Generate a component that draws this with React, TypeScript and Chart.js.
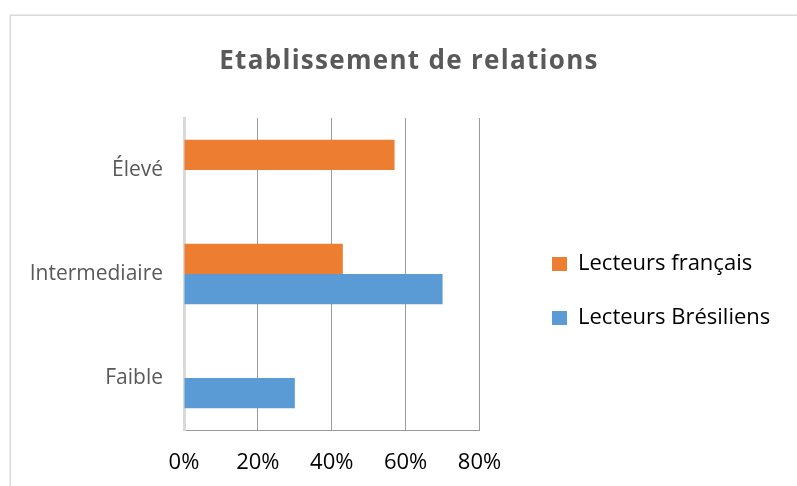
import React, { useEffect, useRef } from 'react';
import { Chart, registerables } from 'chart.js';

Chart.register(...registerables);

const categories = ['Élevé', 'Intermediaire', 'Faible'];
const seriesLabels = ['Lecteurs français', 'Lecteurs Brésiliens'];
const francais = [57, 43, 0];
const bresiliens = [0, 70, 30];
const tickMin = 0;
const tickMax = 80;
const tickStep = 20;
const titleText = 'Etablissement de relations';

const ORANGE = '#ED7D31';
const BLUE = '#5B9BD5';
const FONT = "'Open Sans', sans-serif";

const framePlugin = {
  id: 'frame',
  beforeDraw(chart: any) {
    const ctx = chart.ctx;
    ctx.save();
    ctx.strokeStyle = '#d9d9d9';
    ctx.lineWidth = 1.5;
    ctx.strokeRect(10.25, 15.25, 1000, 1000);
    ctx.restore();
    const t: any = chart.titleBlock;
    if (t && !t.__wrapped) {
      const orig = t.draw.bind(t);
      t.draw = (...args: any[]) => {
        const c: any = chart.ctx;
        const prev = c.letterSpacing;
        c.letterSpacing = '1.3px';
        orig(...args);
        c.letterSpacing = prev || '0px';
      };
      t.__wrapped = true;
    }
  },
};

const legendPlacer = {
  id: 'legendPlacer',
  beforeLayout(chart: any) {
    const lg = chart.legend;
    if (lg && !lg.__fitWrapped) {
      const origFit = lg.fit.bind(lg);
      lg.fit = function () {
        origFit();
        lg.width = 317.5;
      };
      lg.__fitWrapped = true;
    }
  },
  afterLayout(chart: any) {
    const lg = chart.legend;
    if (!lg) return;
    const pad = 32;
    lg.left = 552 - pad;
    lg.right = 797;
    lg.top = 253 - pad;
    lg.bottom = 486;
  },
};

export default function App() {
  const ref = useRef<HTMLCanvasElement>(null);
  useEffect(() => {
    document.body.style.margin = '0';
    const canvas = ref.current;
    if (!canvas) return;
    const chart = new Chart(canvas, {
      type: 'bar',
      data: {
        labels: categories,
        datasets: [
          { label: seriesLabels[0], data: francais, backgroundColor: ORANGE, borderWidth: 0 },
          { label: seriesLabels[1], data: bresiliens, backgroundColor: BLUE, borderWidth: 0 },
        ],
      },
      options: {
        indexAxis: 'y',
        responsive: false,
        animation: false,
        devicePixelRatio: 1,
        layout: { padding: { left: 21, right: 0, top: 0, bottom: 0 } },
        datasets: { bar: { categoryPercentage: 0.58, barPercentage: 1 } },
        scales: {
          x: {
            min: tickMin,
            max: tickMax,
            afterFit: (s: any) => {
              s.height = 56;
            },
            ticks: {
              stepSize: tickStep,
              padding: 20,
              color: '#000000',
              font: { family: FONT, size: 22 },
              callback: (v: any) => v + '%',
            },
            grid: {
              drawTicks: false,
              color: (c: any) => (c.index === 0 ? 'rgba(0,0,0,0)' : '#9a9a9a'),
              lineWidth: 1,
            },
            border: { color: '#9a9a9a', width: 1 },
          },
          y: {
            afterFit: (s: any) => {
              s.width = 163;
            },
            ticks: {
              padding: 21,
              color: '#595959',
              font: { family: FONT, size: 21 },
            },
            grid: { display: false, drawTicks: false },
            border: { color: '#d9d9d9', width: 3 },
          },
        },
        plugins: {
          title: {
            display: true,
            text: titleText,
            color: '#595959',
            font: { family: FONT, size: 26, weight: 'bold', lineHeight: 1.2 },
            padding: { top: 46.4, bottom: 40.4 },
          },
          legend: {
            display: true,
            position: 'right',
            align: 'start',
            labels: {
              boxWidth: 15,
              boxHeight: 14,
              padding: 32,
              color: '#000000',
              font: { family: FONT, size: 22 },
            },
          },
          tooltip: { enabled: false },
        },
      },
      plugins: [framePlugin, legendPlacer],
    });
    return () => chart.destroy();
  }, []);
  return (
    <div style={{ position: 'relative', width: 797, height: 486 }}>
      <canvas ref={ref} width={797} height={486} />
    </div>
  );
}
